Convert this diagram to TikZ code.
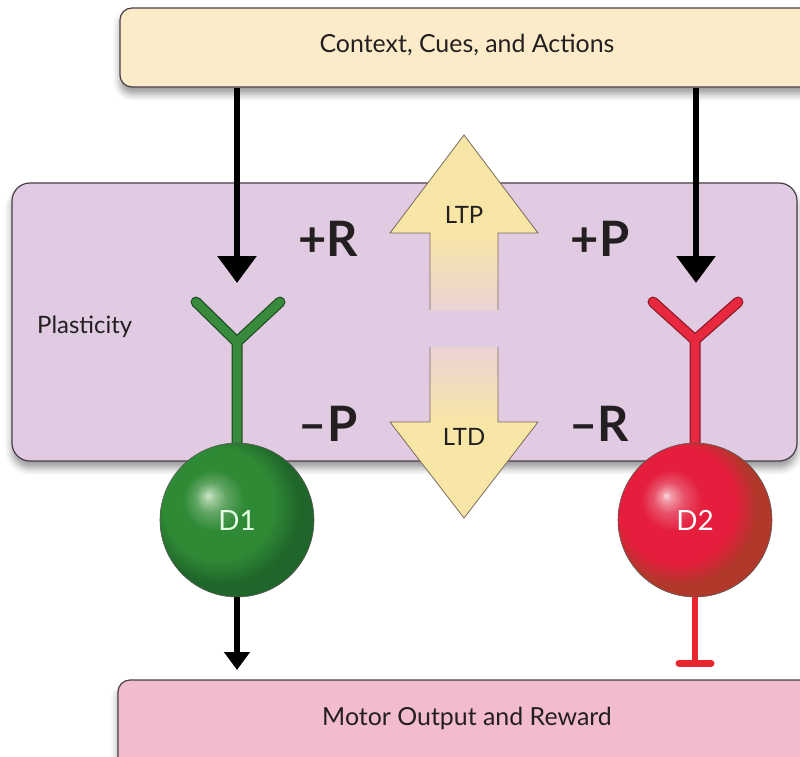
\documentclass[tikz,border=0pt]{standalone}
\usepackage{fontspec}
\setmainfont{Lato}
\usetikzlibrary{arrows.meta,shadows.blur}
\definecolor{ctxfill}{HTML}{FCEBC9}
\definecolor{plfill}{HTML}{E1CBE3}
\definecolor{motfill}{HTML}{F2BCCD}
\definecolor{boxline}{HTML}{4A3D48}
\definecolor{ltpfill}{HTML}{F8E6A6}
\definecolor{fadecol}{HTML}{EAD3D4}
\definecolor{ltpline}{HTML}{7A6A5A}
\definecolor{greenY}{HTML}{388A3C}
\definecolor{greenYo}{HTML}{1F4F22}
\definecolor{redY}{HTML}{E8283F}
\definecolor{redYo}{HTML}{8E1B28}
\definecolor{inkc}{HTML}{231F20}
\definecolor{inhred}{HTML}{E8262F}
\definecolor{ghi}{HTML}{CFE9CB}
\definecolor{gl1}{HTML}{A4CFA2}
\definecolor{gl2}{HTML}{5FA462}
\definecolor{gmid}{HTML}{2F8A35}
\definecolor{gdark}{HTML}{20652A}
\definecolor{rhi}{HTML}{FADCE1}
\definecolor{rl1}{HTML}{F29AA8}
\definecolor{rl2}{HTML}{E8506A}
\definecolor{rmid}{HTML}{E41E3C}
\definecolor{rdark}{HTML}{B0382A}
\pgfdeclareradialshading{greensph}{\pgfqpoint{-9.5bp}{8bp}}{color(0bp)=(ghi); color(1.5bp)=(gl1); color(5bp)=(gl2); color(10bp)=(gmid); color(18bp)=(gmid); color(25bp)=(gdark); color(50bp)=(gdark)}
\pgfdeclareradialshading{redsph}{\pgfqpoint{-9.5bp}{8bp}}{color(0bp)=(rhi); color(1.5bp)=(rl1); color(5bp)=(rl2); color(10bp)=(rmid); color(19bp)=(rmid); color(25bp)=(rdark); color(50bp)=(rdark)}
\begin{document}
\begin{tikzpicture}[x=1bp,y=-1bp,
  box/.style={draw=boxline, line width=1.2bp, inner sep=0pt,
    blur shadow={shadow xshift=0bp, shadow yshift=-7bp, shadow blur radius=7bp, shadow opacity=40}},
  lbl/.style={inner sep=0pt, text=inkc, font=\fontsize{25}{30}\selectfont},
  sign/.style={inner sep=0pt, text=inkc, font=\fontsize{49}{55}\selectfont\bfseries},
  bigarr/.style={draw=black, line width=6bp, -{Triangle[width=38bp,length=27bp]}},
  smallarr/.style={draw=black, line width=6bp, -{Triangle[width=25bp,length=18bp]}},
  yout/.style={line width=11bp, line cap=round, line join=round},
  yin/.style={line width=8.5bp, line cap=round, line join=round},
  soma/.style={circle, minimum size=154bp, inner sep=0pt, draw=black!65, line width=0.6bp,
    font=\fontsize{28}{32}\selectfont},
  ltpl/.style={draw=ltpline, line width=0.8bp, line join=miter}
]
\useasboundingbox (0,0) rectangle (800,757);
% boxes
\node[box, fill=ctxfill, rounded corners=12bp, minimum width=695bp, minimum height=79bp] (ctx) at (467.5,47.5) {};
\node[lbl] (ctxlbl) at (467,45) {Context, Cues, and Actions};
\node[box, fill=plfill, rounded corners=18bp, minimum width=785bp, minimum height=278bp] (plast) at (404.5,322) {};
\node[lbl, anchor=west, font=\fontsize{24}{28}\selectfont] (plastlbl) at (37,327) {Plasticity};
\node[box, fill=motfill, rounded corners=12bp, minimum width=697bp, minimum height=90bp] (motor) at (466.5,725) {};
\node[lbl] (motorlbl) at (467,718) {Motor Output and Reward};
% LTP / LTD arrows
\shade[top color=ltpfill, bottom color=fadecol] (430,232) rectangle (498,310);
\fill[ltpfill] (390,233) -- (464,135) -- (538,233) -- cycle;
\draw[ltpl] (430,310) -- (430,233) -- (390,233) -- (464,135) -- (538,233) -- (498,233) -- (498,310);
\shade[top color=fadecol, bottom color=ltpfill] (430,347) rectangle (498,423);
\fill[ltpfill] (390,422) -- (464,518) -- (538,422) -- cycle;
\draw[ltpl] (430,347) -- (430,422) -- (390,422) -- (464,518) -- (538,422) -- (498,422) -- (498,347);
\node[inner sep=0pt, text=inkc, font=\fontsize{24}{28}\selectfont] (ltp) at (464,215) {LTP};
\node[inner sep=0pt, text=inkc, font=\fontsize{24}{28}\selectfont] (ltd) at (464,437) {LTD};
% signs
\node[sign] (pR) at (328,239) {+R};
\node[sign] (pP) at (600,239) {+P};
\node[sign] (mP) at (328,424) {–P};
\node[sign] (mR) at (599,424) {–R};
% coordinates
\coordinate (d1in) at (237,283);
\coordinate (d2in) at (696,283);
\coordinate (d1yl) at (196,302);
\coordinate (d1yr) at (280,302);
\coordinate (d1yj) at (237,342);
\coordinate (d1top) at (237,452);
\coordinate (d2yl) at (653,302);
\coordinate (d2yr) at (738,302);
\coordinate (d2yj) at (695,340);
\coordinate (d2top) at (695,452);
\coordinate (d1out) at (237,670);
\coordinate (d2out) at (695,663);
\coordinate (d2barL) at (679,663);
\coordinate (d2barR) at (711,663);
% input arrows
\draw[bigarr] (ctx.south -| d1in) -- (d1in);
\draw[bigarr] (ctx.south -| d2in) -- (d2in);
% dendrites
\draw[yout, greenYo] (d1yl) -- (d1yj) -- (d1yr) (d1yj) -- (d1top);
\draw[yin, greenY] (d1yl) -- (d1yj) -- (d1yr) (d1yj) -- (d1top);
\draw[yout, redYo] (d2yl) -- (d2yj) -- (d2yr) (d2yj) -- (d2top);
\draw[yin, redY] (d2yl) -- (d2yj) -- (d2yr) (d2yj) -- (d2top);
% somata
\node[soma, shading=greensph, text=green!10!white] (d1) at (237,520) {D1};
\node[soma, shading=redsph, text=white] (d2) at (695,520) {D2};
% outputs
\draw[smallarr] (d1.south) -- (d1out);
\draw[inhred, line width=6.5bp] (d2.south) -- (d2out);
\draw[inhred, line width=7bp, line cap=round] (d2barL) -- (d2barR);
\end{tikzpicture}
\end{document}
